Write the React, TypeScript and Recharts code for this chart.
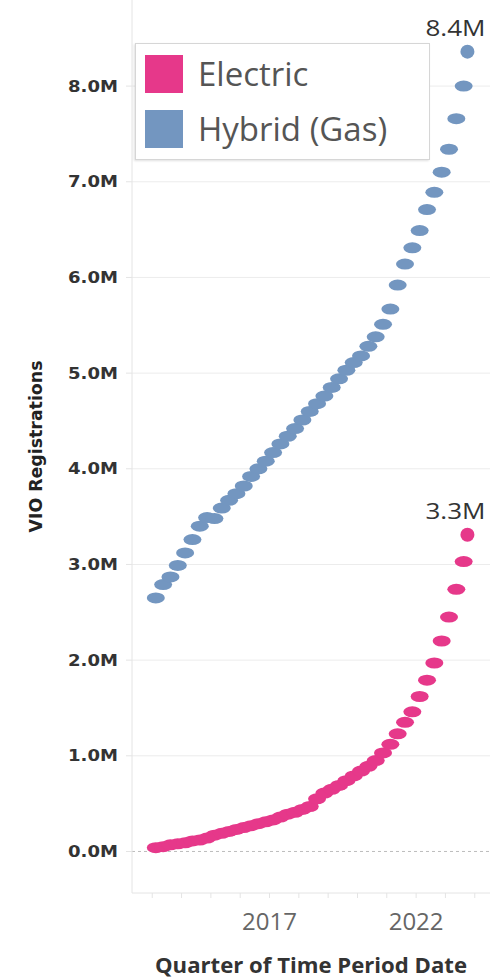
import React from 'react';
import { ScatterChart, Scatter, XAxis, YAxis, CartesianGrid, ReferenceLine } from 'recharts';

// quarterly observations (mid-quarter), last one is the latest month
const periods = [
  '2013-02-15', '2013-05-15', '2013-08-15', '2013-11-15',
  '2014-02-15', '2014-05-15', '2014-08-15', '2014-11-15',
  '2015-02-15', '2015-05-15', '2015-08-15', '2015-11-15',
  '2016-02-15', '2016-05-15', '2016-08-15', '2016-11-15',
  '2017-02-15', '2017-05-15', '2017-08-15', '2017-11-15',
  '2018-02-15', '2018-05-15', '2018-08-15', '2018-11-15',
  '2019-02-15', '2019-05-15', '2019-08-15', '2019-11-15',
  '2020-02-15', '2020-05-15', '2020-08-15', '2020-11-15',
  '2021-02-15', '2021-05-15', '2021-08-15', '2021-11-15',
  '2022-02-15', '2022-05-15', '2022-08-15', '2022-11-15',
  '2023-02-15', '2023-05-15', '2023-08-15', '2023-10-01',
];

// VIO registrations, millions
const electric = [
  0.04, 0.05, 0.07, 0.08, 0.09, 0.11, 0.12, 0.14, 0.17, 0.19, 0.21, 0.23, 0.25, 0.27,
  0.29, 0.31, 0.33, 0.36, 0.39, 0.41, 0.44, 0.47, 0.55, 0.61, 0.65, 0.69, 0.74, 0.79, 0.84,
  0.89, 0.95, 1.03, 1.12, 1.23, 1.35, 1.46, 1.62, 1.79, 1.97, 2.2, 2.45, 2.74, 3.03,
  3.31,
];
const hybrid = [
  2.65, 2.79, 2.87, 2.99, 3.12, 3.26, 3.4, 3.49, 3.48, 3.59, 3.67, 3.74, 3.82, 3.92,
  4.0, 4.08, 4.17, 4.26, 4.34, 4.42, 4.51, 4.6, 4.68, 4.76, 4.85, 4.94, 5.03, 5.11, 5.18,
  5.28, 5.38, 5.51, 5.67, 5.92, 6.14, 6.31, 6.49, 6.71, 6.89, 7.1, 7.34, 7.66, 8.0,
  8.36,
];

const yTicks = [0, 1, 2, 3, 4, 5, 6, 7, 8];
const yearTicks = [2013, 2014, 2015, 2016, 2017, 2018, 2019, 2020, 2021, 2022, 2023, 2024];
const labeledYears = [2017, 2022];

const PINK = '#e6388a';
const BLUE = '#7396c0';

const series = [
  { name: 'Electric', color: PINK, values: electric },
  { name: 'Hybrid (Gas)', color: BLUE, values: hybrid },
];

const toYear = (d: string) => {
  const [y, m, day] = d.split('-').map(Number);
  return y + (m - 1) / 12 + (day - 1) / 365;
};

const build = (values: number[]) =>
  values.map((v, i) => ({ x: toYear(periods[i]), y: v, last: i === values.length - 1 }));

const makeShape = (color: string) => (props: any) => {
  const { cx, cy, payload } = props;
  if (payload.last) {
    return (
      <g>
        <circle cx={cx} cy={cy} r={7} fill={color} />
        <text
          x={cx + 18}
          y={cy - 16}
          textAnchor="end"
          fontFamily="'Open Sans', sans-serif"
          fontSize={21}
          fill="#333"
          textLength={60}
          lengthAdjust="spacingAndGlyphs"
        >
          {payload.y.toFixed(1)}M
        </text>
      </g>
    );
  }
  return <ellipse cx={cx} cy={cy} rx={9} ry={5.5} fill={color} />;
};

const YTick = (props: any) => {
  const { x, y, payload } = props;
  return (
    <text
      x={x}
      y={y + 5.5}
      textAnchor="end"
      fontFamily="'DejaVu Sans', sans-serif"
      fontWeight="bold"
      fontSize={15}
      fill="#333"
      textLength={50}
      lengthAdjust="spacingAndGlyphs"
    >
      {payload.value.toFixed(1)}M
    </text>
  );
};

const XTick = (props: any) => {
  const { x, y, payload } = props;
  if (!labeledYears.includes(payload.value)) return <g />;
  return (
    <text x={x} y={y + 30} textAnchor="middle" fontFamily="'Open Sans', sans-serif" fontSize={24} fill="#666">
      {payload.value}
    </text>
  );
};

const YTitle = (props: any) => {
  const { viewBox } = props;
  const cy = viewBox.y + viewBox.height / 2;
  return (
    <text
      x={0}
      y={0}
      transform={`translate(42, ${cy}) rotate(-90)`}
      textAnchor="middle"
      fontFamily="'Liberation Sans Narrow', 'DejaVu Sans Condensed', sans-serif"
      fontWeight="bold"
      fontSize={17}
      fill="#222"
      textLength={172}
      lengthAdjust="spacingAndGlyphs"
    >
      VIO Registrations
    </text>
  );
};

const XTitle = () => (
  <text
    x={311}
    y={973}
    textAnchor="middle"
    fontFamily="'Open Sans', sans-serif"
    fontWeight="bold"
    fontSize={22}
    fill="#333"
    textLength={312}
    lengthAdjust="spacingAndGlyphs"
  >
    Quarter of Time Period Date
  </text>
);

export default function App() {
  return (
    <div style={{ position: 'absolute', left: 0, top: 0, width: 503, height: 978, background: '#fff' }}>
      <ScatterChart width={503} height={978} margin={{ top: 0, right: 13, bottom: 0, left: 0 }}>
        <CartesianGrid vertical={false} stroke="#ececec" horizontalValues={[1, 2, 3, 4, 5, 6, 7, 8]} />
        <XAxis
          type="number"
          dataKey="x"
          domain={[2012.31, 2024.52]}
          ticks={yearTicks}
          interval={0}
          allowDataOverflow
          height={85}
          tickSize={5}
          axisLine={{ stroke: '#e4e4e4' }}
          tickLine={{ stroke: '#e4e4e4' }}
          tick={<XTick />}
          label={<XTitle />}
        />
        <YAxis
          type="number"
          dataKey="y"
          domain={[-0.434, 8.9]}
          ticks={yTicks}
          interval={0}
          allowDataOverflow
          width={132}
          tickSize={6}
          tickMargin={8}
          axisLine={{ stroke: '#e4e4e4' }}
          tickLine={{ stroke: '#e4e4e4' }}
          tick={<YTick />}
          label={<YTitle />}
        />
        <ReferenceLine y={0} stroke="#bdbdbd" strokeDasharray="3 3" />
        {series.map((s) => (
          <Scatter
            key={s.name}
            name={s.name}
            data={build(s.values)}
            fill={s.color}
            shape={makeShape(s.color)}
            isAnimationActive={false}
          />
        ))}
      </ScatterChart>
      <div
        style={{
          position: 'absolute',
          left: 135,
          top: 43,
          width: 295,
          height: 117,
          boxSizing: 'border-box',
          background: '#fff',
          border: '1px solid #d6d6d6',
          boxShadow: '-1px 1px 2px rgba(0,0,0,0.12)',
        }}
      >
        {series.map((s, i) => (
          <div
            key={s.name}
            style={{ position: 'absolute', left: 9, top: 11 + i * 55, display: 'flex', alignItems: 'center', height: 38 }}
          >
            <div style={{ width: 38, height: 38, background: s.color }} />
            <span
              style={{
                marginLeft: 15,
                fontFamily: "'Open Sans', sans-serif",
                fontSize: 33,
                lineHeight: '38px',
                color: '#555',
                whiteSpace: 'nowrap',
              }}
            >
              {s.name}
            </span>
          </div>
        ))}
      </div>
    </div>
  );
}
